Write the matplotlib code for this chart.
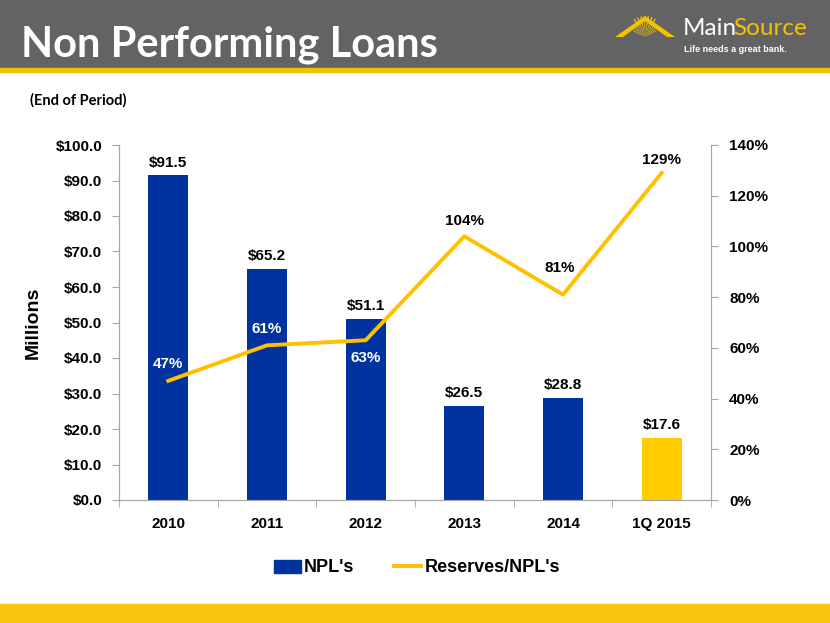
import matplotlib.pyplot as plt
import numpy as np
from matplotlib.patches import Rectangle, Polygon
from matplotlib.lines import Line2D

# Data
periods = ['2010', '2011', '2012', '2013', '2014', '1Q 2015']
npl = [91.5, 65.2, 51.1, 26.5, 28.8, 17.6]
reserves_ratio = [47, 61, 63, 104, 81, 129]
npl_labels = ['$91.5', '$65.2', '$51.1', '$26.5', '$28.8', '$17.6']
ratio_labels = ['47%', '61%', '63%', '104%', '81%', '129%']
left_ticks = np.arange(0, 101, 10)
right_ticks = np.arange(0, 141, 20)

BLUE = '#0033A0'
GOLD = '#FFC000'
BAR_GOLD = '#FFCC00'
GRAY = '#636366'
AXIS_GRAY = '#A6A6A6'

plt.rcParams['font.family'] = ['Liberation Sans', 'DejaVu Sans']

fig = plt.figure(figsize=(8.3, 6.23), dpi=100)
W, H = 830, 623

# header band and stripes, in pixel coords
bg = fig.add_axes([0, 0, 1, 1])
bg.set_xlim(0, W)
bg.set_ylim(H, 0)
bg.axis('off')
bg.add_patch(Rectangle((0, 0), W, 68, color=GRAY))
bg.add_patch(Rectangle((0, 68), W, 4, color='#F2C200'))
bg.add_patch(Rectangle((0, 604), W, 19, color='#F9C80E'))
bg.text(21, 56, 'Non Performing Loans', color='white', fontsize=30,
        fontweight='bold', family='Lato', va='baseline')
bg.text(30, 100, '(End of Period)', fontsize=10.5, fontweight='bold',
        family='Lato', va='center')

# logo: sun rays under a roof shape
cx, cy = 645, 37
for ang in np.linspace(28, 150, 13):
    a = np.radians(ang)
    a2 = np.radians(ang + 4)
    r = 21 if 55 < ang < 125 else 13
    bg.add_patch(Polygon([(cx, cy),
                          (cx + r * np.cos(a), cy - r * np.sin(a)),
                          (cx + r * np.cos(a2), cy - r * np.sin(a2))],
                         color='#F2C200', lw=0))
bg.add_patch(Polygon([(615, 37), (645, 16), (675, 37), (667, 37), (645, 21), (623, 37)],
                     color='#F2C200', lw=0))
main_txt = bg.text(683, 35, 'Main', color='white', fontsize=17.5, family='Lato',
                   va='baseline')
bg.annotate('Source', xy=(1, 0), xycoords=main_txt, xytext=(-2.5, 0),
            textcoords='offset points', color='#F2C200', fontsize=17.5,
            family='Lato', va='bottom', ha='left')
bg.text(684, 50, 'Life needs a great bank.', color='white', fontsize=6.5,
        fontweight='bold', va='center')

# main chart
ax = fig.add_axes([119 / W, 123 / H, 592 / W, 355 / H])
x = np.arange(len(periods))
colors = [BLUE] * (len(periods) - 1) + [BAR_GOLD]
ax.bar(x, npl, width=0.405, color=colors, zorder=2)
ax.set_xlim(-0.5, len(periods) - 0.5)
ax.set_ylim(0, 100)
ax.set_yticks(left_ticks)
ax.set_yticklabels(['$%.1f' % v for v in left_ticks])
ax.set_xticks(x)
ax.set_xticklabels(periods)
ax.set_xticks(np.arange(-0.5, len(periods)), minor=True)
ax.tick_params(axis='x', which='major', length=0, pad=12)
ax.tick_params(axis='x', which='minor', length=5, color=AXIS_GRAY)
ax.tick_params(axis='y', length=5, color=AXIS_GRAY, pad=7)
for lab in ax.get_xticklabels() + ax.get_yticklabels():
    lab.set_fontweight('bold')
    lab.set_fontsize(11)
ax.spines['top'].set_visible(False)
for s in ['left', 'right', 'bottom']:
    ax.spines[s].set_color(AXIS_GRAY)
ax.set_ylabel('Millions', fontsize=14, fontweight='bold', labelpad=10)

for i, v in enumerate(npl):
    ax.annotate(npl_labels[i], (x[i], v), xytext=(0, 9), textcoords='offset points',
                ha='center', va='center', fontsize=11, fontweight='bold')

ax2 = ax.twinx()
ax2.plot(x, reserves_ratio, color=GOLD, lw=2.8, zorder=3)
ax2.set_ylim(0, 140)
ax2.set_yticks(right_ticks)
ax2.set_yticklabels(['%d%%' % v for v in right_ticks])
ax2.tick_params(axis='y', length=5, color=AXIS_GRAY, pad=8)
for lab in ax2.get_yticklabels():
    lab.set_fontweight('bold')
    lab.set_fontsize(11)
ax2.spines['top'].set_visible(False)
for s in ['left', 'right', 'bottom']:
    ax2.spines[s].set_color(AXIS_GRAY)

offsets = [(0, 12), (0, 12), (0, -13), (0, 11), (-2, 19), (0, 9)]
label_colors = ['white', 'white', 'white', 'black', 'black', 'black']
for i, v in enumerate(reserves_ratio):
    ax2.annotate(ratio_labels[i], (x[i], v), xytext=offsets[i], textcoords='offset points',
                 ha='center', va='center', fontsize=11, fontweight='bold',
                 color=label_colors[i])

handles = [Rectangle((0, 0), 1, 1, color=BLUE),
           Line2D([0], [0], color=GOLD, lw=2.8)]
fig.legend(handles, ["NPL's", "Reserves/NPL's"], loc='center',
           bbox_to_anchor=(417 / W, 1 - 568 / H), ncol=2, frameon=False,
           prop={'weight': 'bold', 'size': 13}, handlelength=1.5,
           handletextpad=0.2, columnspacing=2.2)

fig.savefig('out.png', dpi=100)
